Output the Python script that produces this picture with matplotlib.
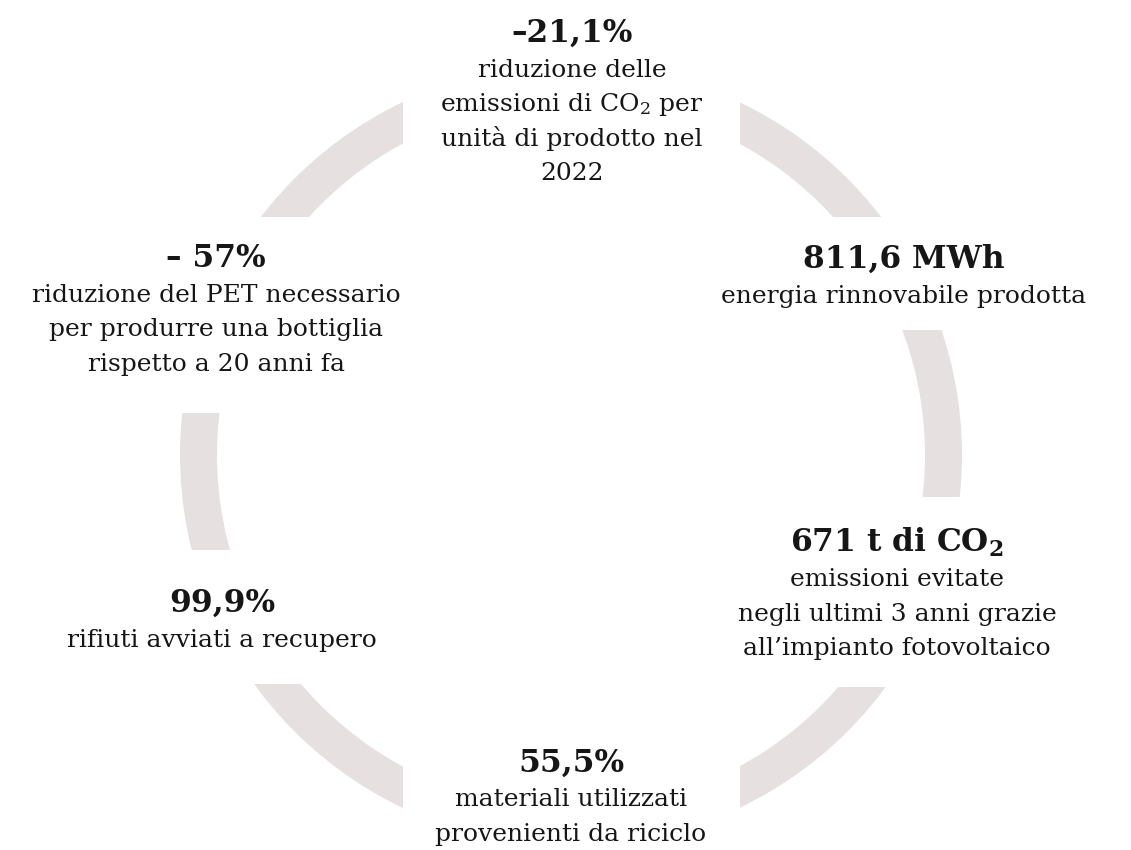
import matplotlib
matplotlib.use("Agg")
import matplotlib.pyplot as plt
from matplotlib.patches import Wedge, Rectangle

# ==========================================
# DATI
# ==========================================
headlines = [
    "–21,1%",
    "811,6 MWh",
    r"671 t di CO$_\mathbf{2}$",
    "55,5%",
    "99,9%",
    "– 57%",
]
descriptions = [
    ["riduzione delle", r"emissioni di CO$_2$ per", "unità di prodotto nel", "2022"],
    ["energia rinnovabile prodotta"],
    ["emissioni evitate", "negli ultimi 3 anni grazie", "all’impianto fotovoltaico"],
    ["materiali utilizzati", "provenienti da riciclo"],
    ["rifiuti avviati a recupero"],
    ["riduzione del PET necessario", "per produrre una bottiglia", "rispetto a 20 anni fa"],
]

# posizione (centro x, baseline del titolo) in pixel
anchors = [(572, 42), (904, 268), (897, 552), (571, 772), (222, 612), (216, 267)]
# riquadri bianchi che interrompono l'anello dietro ogni blocco di testo
masks = [(403, -10, 740, 240), (700, 217, 1140, 330), (680, 497, 1140, 687),
         (403, 700, 740, 860), (-10, 550, 450, 684), (-10, 217, 450, 413)]

W, H = 1131, 850
cx, cy, r_out, r_in = 571, 455, 391, 354
ring_color = '#E6E1E0'
text_color = '#161616'
line_gap = 34.5

plt.rcParams['font.family'] = ['DejaVu Serif']
plt.rcParams['mathtext.fontset'] = 'dejavuserif'

fig = plt.figure(figsize=(W / 100, H / 100), dpi=100)
ax = fig.add_axes([0, 0, 1, 1])
ax.set_xlim(0, W)
ax.set_ylim(H, 0)
ax.axis('off')

# anello
ax.add_patch(Wedge((cx, cy), r_out, 0, 360, width=r_out - r_in,
                   facecolor=ring_color, edgecolor='none', zorder=1))
for x0, y0, x1, y1 in masks:
    ax.add_patch(Rectangle((x0, y0), x1 - x0, y1 - y0, facecolor='white',
                           edgecolor='none', zorder=2))

# testi
for head, desc, (x, y) in zip(headlines, descriptions, anchors):
    ax.text(x, y, head, ha='center', va='baseline', fontsize=22.5,
            fontweight='bold', color=text_color, zorder=3)
    for i, line in enumerate(desc):
        ax.text(x, y + line_gap * (i + 1), line, ha='center', va='baseline',
                fontsize=18, color=text_color, zorder=3)

fig.savefig('out.png', dpi=100, facecolor='white')
